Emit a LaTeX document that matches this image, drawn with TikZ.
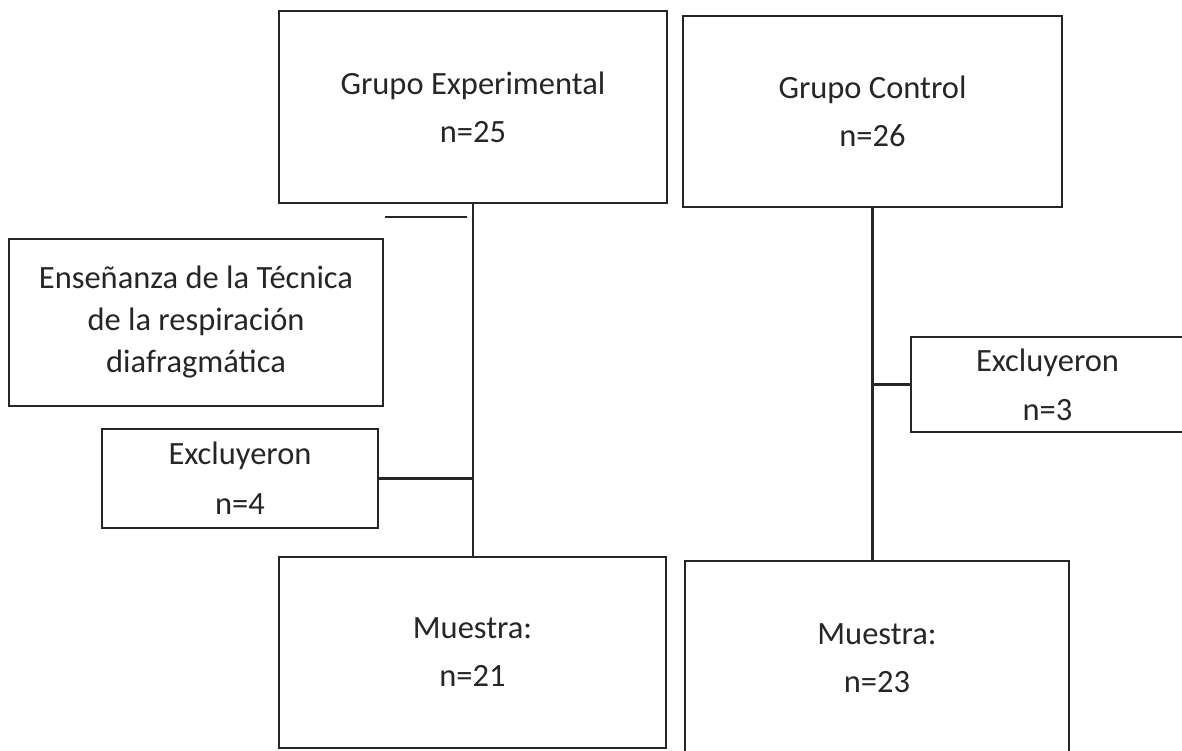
\documentclass[tikz,border=0pt]{standalone}
\usepackage{fontspec}
\setmainfont{Carlito}
\begin{document}
\begin{tikzpicture}[x=1pt,y=-1pt,
  box/.style={draw=black!85, line width=2.3pt, inner sep=0pt, align=center, text=black!85},
  conn/.style={draw=black!85, line width=2.3pt}]
\useasboundingbox (0,0) rectangle (1182,751);
\node[box, font=\fontsize{32.5}{48}\selectfont, minimum width=388pt, minimum height=192pt] (ge) at (473,107) {Grupo Experimental\\n=25};
\node[box, font=\fontsize{32.5}{48}\selectfont, minimum width=379pt, minimum height=191pt] (gc) at (872.5,111.5) {Grupo Control\\n=26};
\node[box, font=\fontsize{32.5}{42}\selectfont, minimum width=374pt, minimum height=167pt] (ens) at (196,322.5) {Enseñanza de la Técnica\\de la respiración\\diafragmática};
\node[box, font=\fontsize{32.5}{50}\selectfont, minimum width=276pt, minimum height=99pt] (exl) at (240,478.5) {Excluyeron\\n=4};
\node[box, font=\fontsize{32.5}{49}\selectfont, minimum width=273pt, minimum height=95pt] (exr) at (1047.5,384.5) {Excluyeron\\n=3};
\node[box, font=\fontsize{32.5}{48}\selectfont, minimum width=387pt, minimum height=191pt] (ml) at (472.5,652.5) {Muestra:\\n=21};
\node[box, font=\fontsize{32.5}{48}\selectfont, minimum width=384pt, minimum height=194pt] (mr) at (877,658) {Muestra:\\n=23};
\coordinate (s1) at (385,217);
\coordinate (s2) at (467,217);
\draw[conn] (s1) -- (s2);
\draw[conn] (ge.south) -- (ge.south |- ml.north);
\draw[conn] (exl.east) -- (exl.east -| ge.south);
\draw[conn] (gc.south) -- (gc.south |- mr.north);
\draw[conn] (exr.west) -- (exr.west -| gc.south);
\end{tikzpicture}
\end{document}
